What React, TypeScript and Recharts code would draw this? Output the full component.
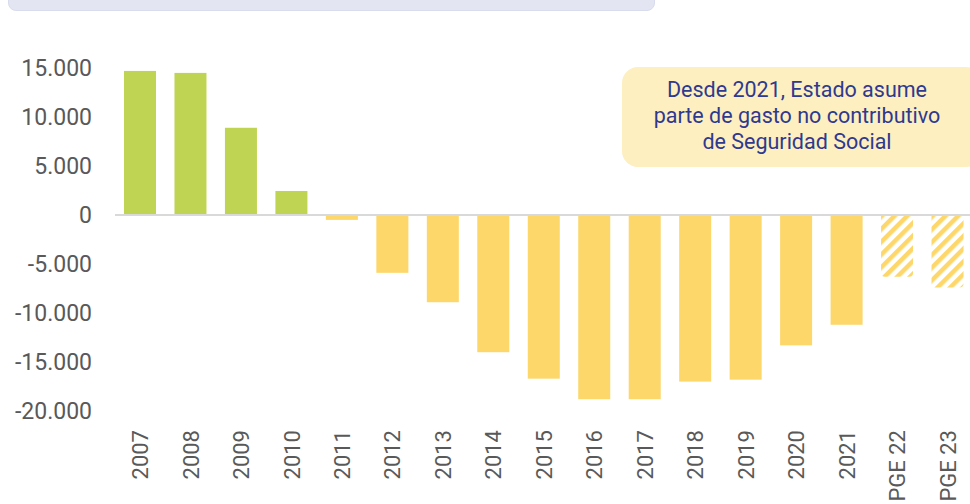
import { BarChart, Bar, Cell, XAxis, YAxis, ReferenceLine } from 'recharts';

const years = ['2007', '2008', '2009', '2010', '2011', '2012', '2013', '2014', '2015', '2016', '2017', '2018', '2019', '2020', '2021', 'PGE 22', 'PGE 23'];
const saldo = [14700, 14500, 8900, 2450, -500, -5900, -8900, -14000, -16700, -18800, -18800, -17000, -16800, -13300, -11200, -6300, -7400];
const yTicks = [-20000, -15000, -10000, -5000, 0, 5000, 10000, 15000];
const noteLines = ['Desde 2021, Estado asume', 'parte de gasto no contributivo', 'de Seguridad Social'];

const data = years.map((year, i) => ({ year, value: saldo[i] }));

const GREEN = '#bfd452';
const YELLOW = '#fdd76a';
const FONT = 'Roboto, "Noto Sans", sans-serif';

const fmt = (v: number) => {
  const s = Math.abs(v).toString().replace(/\B(?=(\d{3})+(?!\d))/g, '.');
  return v < 0 ? '-' + s : s;
};

const fillFor = (year: string, v: number) => {
  if (year.startsWith('PGE')) return 'url(#hatch)';
  return v >= 0 ? GREEN : YELLOW;
};

function BarShape(props: any) {
  const { x, y, width, height, fill, payload } = props;
  const top = Math.min(y, y + height);
  const h = Math.abs(height);
  if (payload && payload.year.startsWith('PGE')) {
    const r = Math.min(4, h / 2);
    const d = `M${x},${top} H${x + width} V${top + h - r} Q${x + width},${top + h} ${x + width - r},${top + h} H${x + r} Q${x},${top + h} ${x},${top + h - r} Z`;
    return <path d={d} fill={fill} />;
  }
  return <rect x={x} y={top} width={width} height={h} fill={fill} />;
}

function XTick(props: any) {
  const { x, y, payload } = props;
  const yy = y - 2;
  return (
    <text
      x={x}
      y={yy}
      transform={`rotate(-90 ${x} ${yy})`}
      textAnchor="end"
      dy="0.36em"
      fontSize={22}
      fill="#595959"
      fontFamily={FONT}
    >
      {payload.value}
    </text>
  );
}

export default function App() {
  return (
    <div style={{ position: 'fixed', left: 0, top: 0, width: 970, height: 504, overflow: 'hidden', background: '#fff', fontFamily: FONT }}>
      {/* title box, mostly cut off at the top */}
      <div
        style={{
          position: 'absolute',
          left: 8,
          top: -40,
          width: 647,
          height: 51,
          background: '#e3e5f2',
          borderRadius: 8,
          border: '1px solid #d9dcec',
          boxSizing: 'border-box',
        }}
      />
      <BarChart width={975} height={504} data={data} margin={{ top: 68, right: 2, bottom: 0, left: 0 }} barSize={32}>
        <defs>
          <pattern id="hatch" patternUnits="userSpaceOnUse" width="9" height="9" patternTransform="rotate(45)">
            <rect width="9" height="9" fill="#ffffff" />
            <rect width="4.5" height="9" fill={YELLOW} />
          </pattern>
        </defs>
        <XAxis
          dataKey="year"
          interval={0}
          axisLine={false}
          tickLine={false}
          tickSize={0}
          tickMargin={21}
          height={93}
          tick={<XTick />}
        />
        <YAxis
          domain={[-20000, 15000]}
          ticks={yTicks}
          tickFormatter={fmt}
          axisLine={false}
          tickLine={false}
          tickSize={0}
          tickMargin={23}
          width={115}
          tick={{ fontSize: 23, fill: '#595959', fontFamily: FONT }}
        />
        <Bar dataKey="value" isAnimationActive={false} shape={<BarShape />}>
          {data.map((d) => (
            <Cell key={d.year} fill={fillFor(d.year, d.value)} />
          ))}
        </Bar>
        <ReferenceLine y={0} stroke="#d9d9d9" strokeWidth={2} />
      </BarChart>
      <div
        style={{
          position: 'absolute',
          left: 622,
          top: 67,
          width: 360,
          height: 100,
          background: '#fdefc0',
          borderRadius: 16,
          color: '#2e3990',
          fontSize: 21.5,
          lineHeight: '26px',
          textAlign: 'center',
          paddingTop: 10,
          paddingRight: 10,
          boxSizing: 'border-box',
        }}
      >
        {noteLines.map((l) => (
          <div key={l}>{l}</div>
        ))}
      </div>
    </div>
  );
}
